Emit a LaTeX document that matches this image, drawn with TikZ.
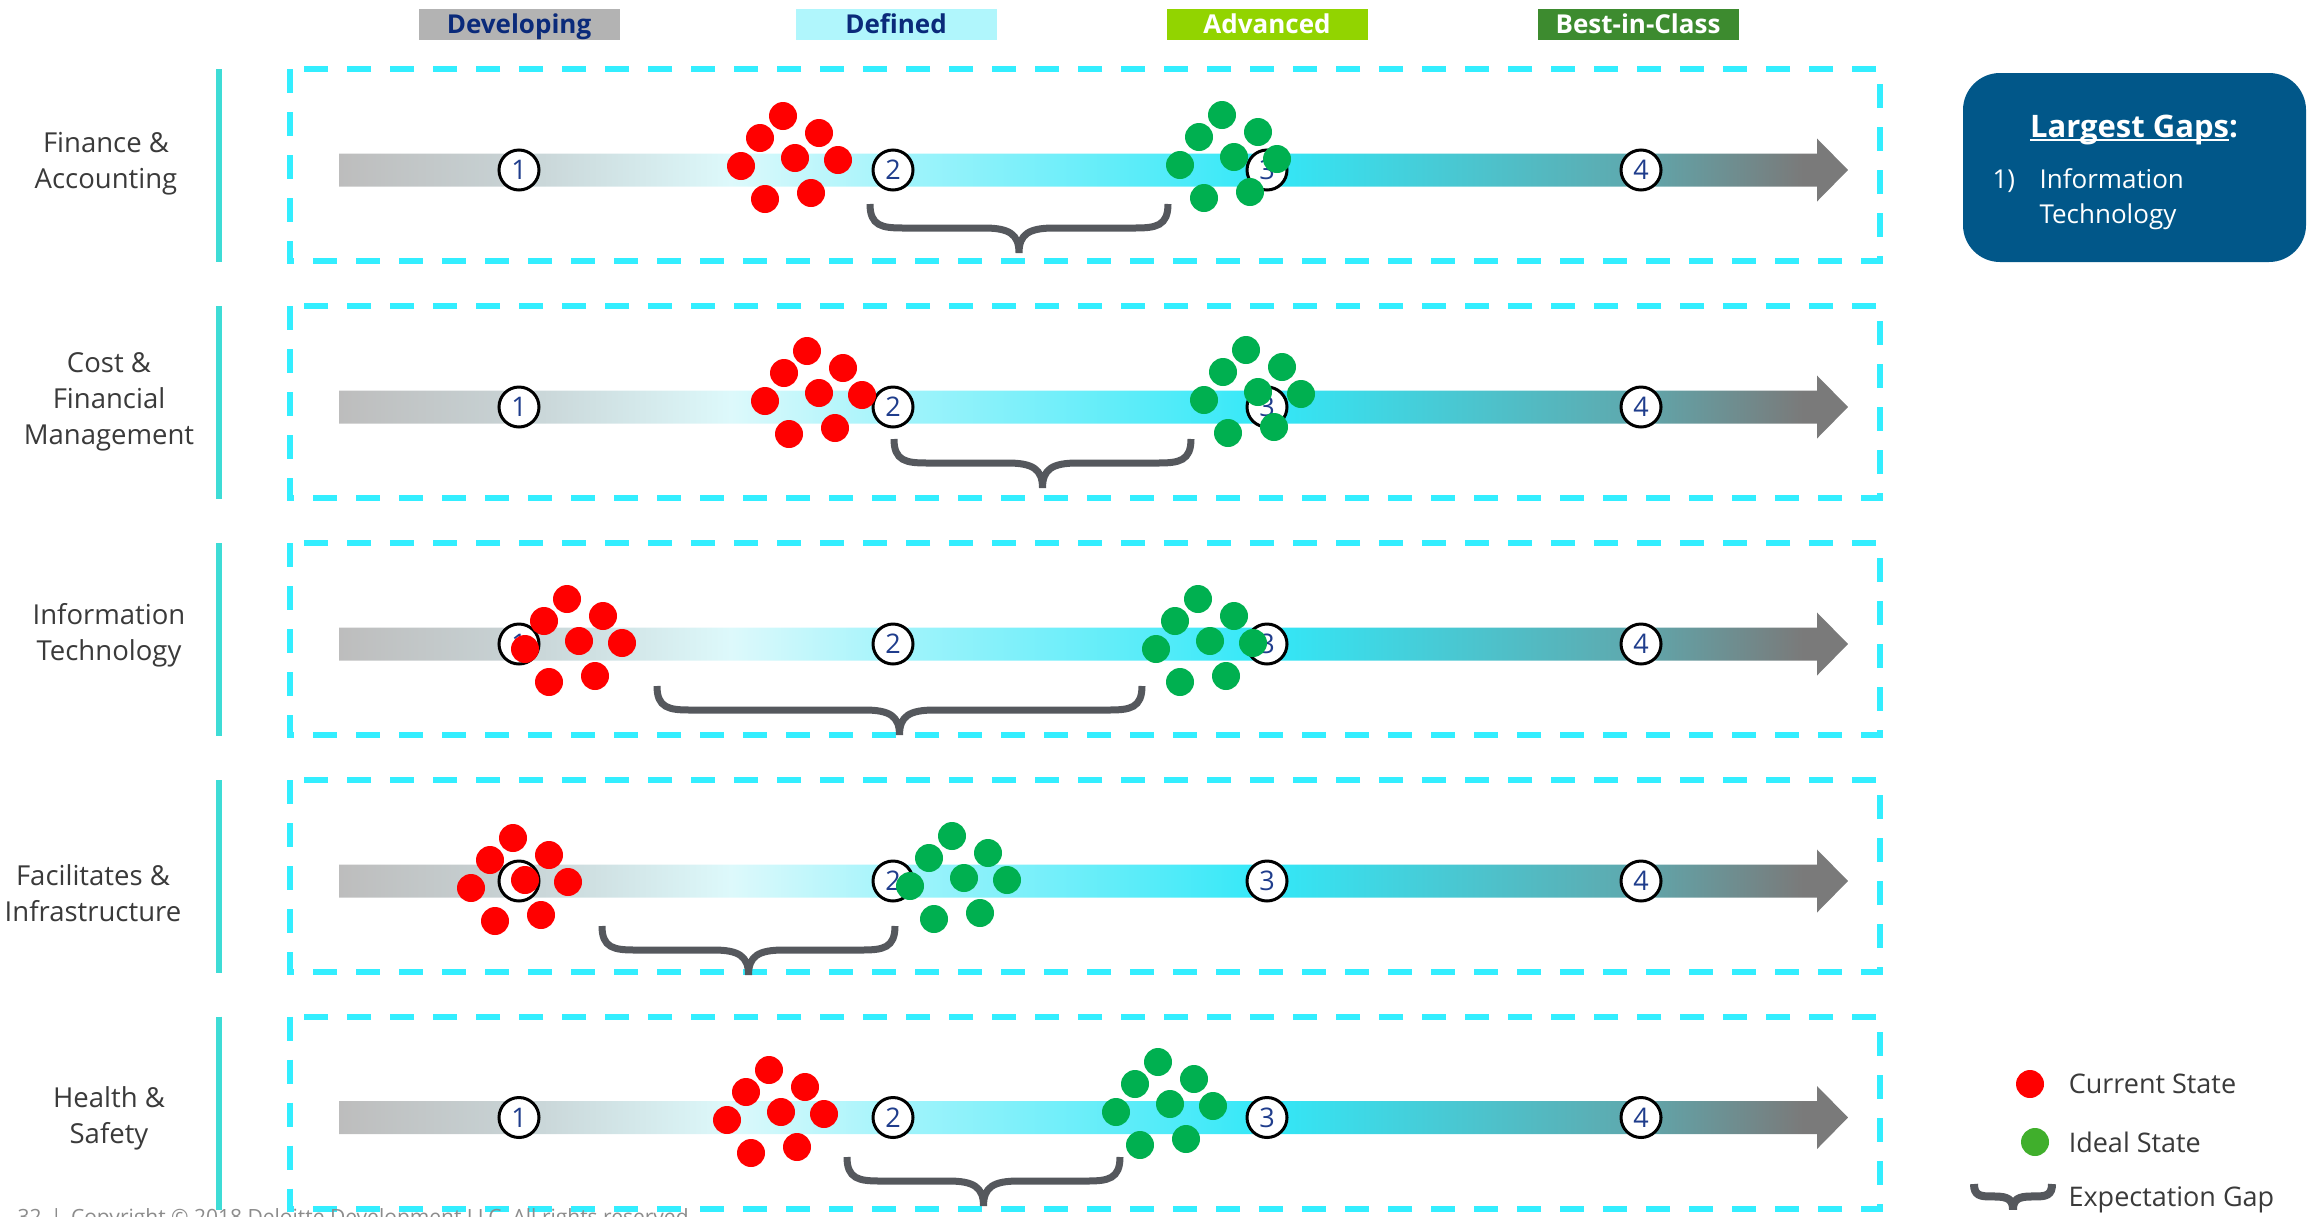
\documentclass[tikz,border=0pt]{standalone}
\usepackage{fontspec}
\setmainfont{Open Sans}
\usetikzlibrary{positioning}
\definecolor{GapCyan}{HTML}{33EEFF}
\definecolor{GapTeal}{HTML}{3EDCD6}
\definecolor{GapText}{HTML}{3A3A3A}
\definecolor{GapMuted}{HTML}{8C8C8C}
\definecolor{GapNavy}{HTML}{1F3D8C}
\definecolor{GapHeadNavy}{HTML}{0A2A7A}
\definecolor{GapRed}{HTML}{FF0000}
\definecolor{GapGreen}{HTML}{00B050}
\definecolor{GapLegGreen}{HTML}{40AF2C}
\definecolor{GapBrace}{HTML}{55585D}
\definecolor{GapBlue}{HTML}{015789}
\definecolor{DevGray}{HTML}{B3B3B3}
\definecolor{DefCyan}{HTML}{B0F6FC}
\definecolor{AdvLime}{HTML}{92D400}
\definecolor{BicGreen}{HTML}{3D8B2F}
\definecolor{ShA}{HTML}{BDBDBD}
\definecolor{ShB}{HTML}{C8D3D5}
\definecolor{ShC}{HTML}{DDF9FB}
\definecolor{ShD}{HTML}{A3F4FB}
\definecolor{ShE}{HTML}{33E8F8}
\definecolor{ShF}{HTML}{42D2DE}
\definecolor{ShG}{HTML}{5FA8AD}
\definecolor{ShH}{HTML}{7A7A7A}
\pgfdeclarehorizontalshading{stageshade}{100bp}{color(0bp)=(ShA); color(25bp)=(ShA);
  color(31bp)=(ShB); color(38bp)=(ShC); color(43.4bp)=(ShD); color(55.8bp)=(ShE);
  color(60bp)=(ShF); color(68bp)=(ShG); color(73.5bp)=(ShH); color(75bp)=(ShH); color(100bp)=(ShH)}
\newcommand\gapsuline[1]{\setbox0\hbox{#1}\rlap{\rule[-4pt]{\wd0}{2.5pt}}\box0}
\newcommand\gapbrace[5][]{%
  \pgfmathsetmacro\gbMid{(#2+#3)/2}
  \draw[gapline,#1] (#2,#4) .. controls (#2,#4+22*#5) and (#2+12*#5,#4+24*#5) .. (#2+33*#5,#4+24*#5)
    -- (\gbMid-35*#5,#4+24*#5) .. controls (\gbMid-10*#5,#4+24*#5) and (\gbMid,#4+30*#5) .. (\gbMid,#4+49*#5)
    .. controls (\gbMid,#4+30*#5) and (\gbMid+10*#5,#4+24*#5) .. (\gbMid+35*#5,#4+24*#5)
    -- (#3-33*#5,#4+24*#5) .. controls (#3-12*#5,#4+24*#5) and (#3,#4+22*#5) .. (#3,#4);
}
\newcommand\statecluster[3]{%
  \foreach \dx/\dy in {-12/-42,-35/-20,24/-25,0/0,-54/8,43/2,-30/41,16/35}
    \fill[#1] ({#2+(\dx)},{#3+(\dy)}) circle[radius=14pt];
}

\begin{document}
\begin{tikzpicture}[x=1pt,y=-1pt,
    stagenum/.style={circle,draw=black,line width=3pt,fill=white,minimum size=40pt,
      inner sep=0pt,text=GapNavy,font=\fontsize{27}{27}\selectfont},
    stagehead/.style={minimum width=201pt,minimum height=31pt,inner sep=0pt,
      text height=21pt,text depth=2pt,font=\bfseries\fontsize{26}{26}\selectfont},
    rowlabel/.style={align=center,text=GapText,font=\fontsize{27.5}{36}\selectfont},
    gapline/.style={GapBrace,line width=7pt},
    rowbox/.style={GapCyan,line width=6pt,dash pattern=on 24pt off 19pt},
    legtext/.style={anchor=west,text=GapText,font=\fontsize{27}{27}\selectfont}]
  \useasboundingbox (0,0) rectangle (2310,1216);

  \node[stagehead,fill=DevGray,text=GapHeadNavy] (hdev) at (519,24) {Developing};
  \node[stagehead,fill=DefCyan,text=GapHeadNavy] (hdef) at (896,24) {Defined};
  \node[stagehead,fill=AdvLime,text=white] (hadv) at (1267,24) {Advanced};
  \node[stagehead,fill=BicGreen,text=white] (hbic) at (1638,24) {Best-in-Class};

  \foreach \rw/\y in {1/170,2/407,3/644,4/881,5/1117.5} {
    \draw[rowbox] (290,\y-101) rectangle (1880,\y+91);
    \draw[GapTeal,line width=6pt] (219,\y-101) -- (219,\y+92);
    \shade[shading=stageshade] (339,\y-16.5) -- (1817,\y-16.5) -- (1817,\y-31.5)
      -- (1848,\y) -- (1817,\y+31.5) -- (1817,\y+16.5) -- (339,\y+16.5) -- cycle;
    \foreach \n/\x in {1/519,2/893,3/1267,4/1641}
      \node[stagenum] (s\rw-\n) at (\x,\y) {\n};
  }

  \foreach \rx/\ry/\gx/\gy/\bxl/\bxr/\bxt in {
    795/158/1234/157/870/1168/204,
    819/393/1258/392/894/1191/439,
    579/641/1210/641/657/1142/686,
    525/880/964/878/602/895/926,
    781/1112/1170/1104/847/1120/1157
  }{
    \gapbrace{\bxl}{\bxr}{\bxt}{1}
    \statecluster{GapRed}{\rx}{\ry}
    \statecluster{GapGreen}{\gx}{\gy}
  }

  \node[rowlabel] (lab1) at (106,164) {Finance \&\\Accounting};
  \node[rowlabel] (lab2) at (109,402) {Cost \&\\Financial\\Management};
  \node[rowlabel] (lab3) at (109,635) {Information\\Technology};
  \node[rowlabel] (lab4) at (93,893) {Facilitates \&\\Infrastructure};
  \node[rowlabel] (lab5) at (109,1118) {Health \&\\Safety};

  \node[fill=GapBlue,rounded corners=37pt,minimum width=343pt,minimum height=189pt,
    inner sep=0pt] (gaps) at (2134.5,167.5) {};
  \node[text=white,font=\bfseries\fontsize{31}{31}\selectfont,anchor=base]
    (gapstitle) at (2134,137) {\gapsuline{Largest Gaps}:};
  \node[text=white,font=\fontsize{26}{26}\selectfont,anchor=base west]
    (gapsnum) at (1989,188) {1)};
  \node[text=white,font=\fontsize{26}{26}\selectfont,anchor=base west]
    (gapsitem) at (2036,188) {Information};
  \node[text=white,font=\fontsize{26}{26}\selectfont,anchor=base west]
    (gapsitemb) at (2036,223) {Technology};

  \node[circle,fill=GapRed,minimum size=28pt,inner sep=0pt] (legcur) at (2030,1084) {};
  \node[legtext,right=21pt of legcur] (legcurtxt) {Current State};
  \node[circle,fill=GapLegGreen,minimum size=28pt,inner sep=0pt] (legideal) at (2035,1142) {};
  \node[legtext,right=16pt of legideal] (legidealtxt) {Ideal State};
  \gapbrace[line width=8pt]{1974}{2052}{1184}{0.52}
  \node[legtext] (leggaptxt) at (2065,1200) {Expectation Gap};

  \node[anchor=base west,text=GapMuted,font=\fontsize{21}{21}\selectfont]
    (copy) at (14,1224) {32 \,|\, Copyright © 2018 Deloitte Development LLC. All rights reserved.};
\end{tikzpicture}
\end{document}
